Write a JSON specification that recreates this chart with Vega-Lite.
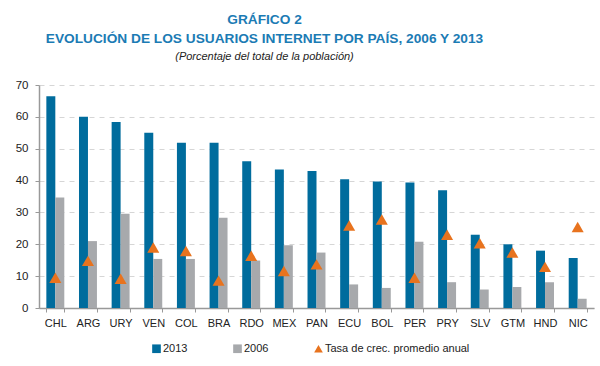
{
  "$schema": "https://vega.github.io/schema/vega-lite/v6.json",
  "width": 555,
  "height": 223,
  "autosize": {"type": "pad"},
  "padding": {"left": 15, "top": 13, "right": 7, "bottom": 5},
  "background": "white",
  "config": {"font": "Liberation Sans", "view": {"stroke": null}},
  "title": {
    "text": ["GRÁFICO 2", "EVOLUCIÓN DE LOS USUARIOS INTERNET POR PAÍS, 2006 Y 2013"],
    "subtitle": "(Porcentaje del total de la población)",
    "fontSize": 13.7,
    "fontWeight": "bold",
    "color": "#1B7BB4",
    "lineHeight": 19,
    "subtitleFontSize": 11,
    "subtitleFontStyle": "italic",
    "subtitleColor": "#222222",
    "subtitlePadding": 5,
    "anchor": "middle",
    "frame": "group",
    "dx": -52,
    "offset": 17
  },
  "data": {
    "values": [
      {"pais": "CHL", "serie": "2013", "valor": 66.5},
      {"pais": "ARG", "serie": "2013", "valor": 60.0},
      {"pais": "URY", "serie": "2013", "valor": 58.4},
      {"pais": "VEN", "serie": "2013", "valor": 55.0},
      {"pais": "COL", "serie": "2013", "valor": 51.9},
      {"pais": "BRA", "serie": "2013", "valor": 51.9},
      {"pais": "RDO", "serie": "2013", "valor": 46.1},
      {"pais": "MEX", "serie": "2013", "valor": 43.5},
      {"pais": "PAN", "serie": "2013", "valor": 43.0},
      {"pais": "ECU", "serie": "2013", "valor": 40.4},
      {"pais": "BOL", "serie": "2013", "valor": 39.7},
      {"pais": "PER", "serie": "2013", "valor": 39.4},
      {"pais": "PRY", "serie": "2013", "valor": 37.0},
      {"pais": "SLV", "serie": "2013", "valor": 23.0},
      {"pais": "GTM", "serie": "2013", "valor": 20.0},
      {"pais": "HND", "serie": "2013", "valor": 18.0},
      {"pais": "NIC", "serie": "2013", "valor": 15.7},
      {"pais": "CHL", "serie": "2006", "valor": 34.7},
      {"pais": "ARG", "serie": "2006", "valor": 21.0},
      {"pais": "URY", "serie": "2006", "valor": 29.6},
      {"pais": "VEN", "serie": "2006", "valor": 15.4},
      {"pais": "COL", "serie": "2006", "valor": 15.4},
      {"pais": "BRA", "serie": "2006", "valor": 28.3},
      {"pais": "RDO", "serie": "2006", "valor": 14.9},
      {"pais": "MEX", "serie": "2006", "valor": 19.7},
      {"pais": "PAN", "serie": "2006", "valor": 17.4},
      {"pais": "ECU", "serie": "2006", "valor": 7.4},
      {"pais": "BOL", "serie": "2006", "valor": 6.3},
      {"pais": "PER", "serie": "2006", "valor": 20.8},
      {"pais": "PRY", "serie": "2006", "valor": 8.1},
      {"pais": "SLV", "serie": "2006", "valor": 5.8},
      {"pais": "GTM", "serie": "2006", "valor": 6.6},
      {"pais": "HND", "serie": "2006", "valor": 8.1},
      {"pais": "NIC", "serie": "2006", "valor": 2.9},
      {"pais": "CHL", "serie": "Tasa de crec. promedio anual", "valor": 9.5},
      {"pais": "ARG", "serie": "Tasa de crec. promedio anual", "valor": 14.8},
      {"pais": "URY", "serie": "Tasa de crec. promedio anual", "valor": 9.2},
      {"pais": "VEN", "serie": "Tasa de crec. promedio anual", "valor": 19.0},
      {"pais": "COL", "serie": "Tasa de crec. promedio anual", "valor": 17.9},
      {"pais": "BRA", "serie": "Tasa de crec. promedio anual", "valor": 8.6},
      {"pais": "RDO", "serie": "Tasa de crec. promedio anual", "valor": 16.4},
      {"pais": "MEX", "serie": "Tasa de crec. promedio anual", "valor": 11.6},
      {"pais": "PAN", "serie": "Tasa de crec. promedio anual", "valor": 13.7},
      {"pais": "ECU", "serie": "Tasa de crec. promedio anual", "valor": 25.9},
      {"pais": "BOL", "serie": "Tasa de crec. promedio anual", "valor": 27.8},
      {"pais": "PER", "serie": "Tasa de crec. promedio anual", "valor": 9.5},
      {"pais": "PRY", "serie": "Tasa de crec. promedio anual", "valor": 23.0},
      {"pais": "SLV", "serie": "Tasa de crec. promedio anual", "valor": 20.3},
      {"pais": "GTM", "serie": "Tasa de crec. promedio anual", "valor": 17.4},
      {"pais": "HND", "serie": "Tasa de crec. promedio anual", "valor": 12.9},
      {"pais": "NIC", "serie": "Tasa de crec. promedio anual", "valor": 25.4}
    ]
  },
  "encoding": {
    "x": {
      "field": "pais",
      "type": "nominal",
      "sort": null,
      "scale": {"paddingInner": 0.45, "paddingOuter": 0.225},
      "axis": {
        "title": null,
        "labelAngle": 0,
        "labelFontSize": 11,
        "labelColor": "#222222",
        "domainColor": "#999999",
        "domainWidth": 1.5,
        "tickColor": "#999999",
        "tickSize": 4,
        "tickBand": "extent",
        "labelPadding": 5,
        "grid": false
      }
    },
    "y": {
      "field": "valor",
      "type": "quantitative",
      "scale": {"domain": [0, 70]},
      "axis": {
        "title": null,
        "values": [0, 10, 20, 30, 40, 50, 60, 70],
        "grid": true,
        "gridDash": [5, 5],
        "gridColor": "#D6D6D6",
        "domainColor": "#999999",
        "domainWidth": 1.5,
        "tickColor": "#999999",
        "tickSize": 4,
        "labelPadding": 7,
        "labelFontSize": 11.5,
        "labelColor": "#222222"
      }
    },
    "color": {
      "field": "serie",
      "type": "nominal",
      "scale": {
        "domain": ["2013", "2006", "Tasa de crec. promedio anual"],
        "range": ["#006C9D", "#A7A9AC", "#E8731E"]
      },
      "legend": {
        "title": null,
        "orient": "none",
        "legendX": 112,
        "legendY": 258,
        "direction": "horizontal",
        "columnPadding": 44,
        "labelFontSize": 11,
        "labelColor": "#222222",
        "symbolSize": 75,
        "labelOffset": 1,
        "symbolStrokeWidth": 0
      }
    }
  },
  "layer": [
    {
      "transform": [{"filter": "datum.serie !== 'Tasa de crec. promedio anual'"}],
      "mark": {"type": "bar"},
      "encoding": {
        "xOffset": {
          "field": "serie",
          "type": "nominal",
          "sort": ["2013", "2006"],
          "scale": {"paddingInner": 0, "paddingOuter": 0}
        }
      }
    },
    {
      "transform": [{"filter": "datum.serie === 'Tasa de crec. promedio anual'"}],
      "mark": {"type": "point", "filled": true, "size": 145, "opacity": 1},
      "encoding": {
        "shape": {
          "field": "serie",
          "type": "nominal",
          "scale": {
            "domain": ["2013", "2006", "Tasa de crec. promedio anual"],
            "range": ["square", "square", "triangle-up"]
          },
          "legend": {
            "title": null,
            "orient": "none",
            "legendX": 112,
            "legendY": 258,
            "direction": "horizontal",
            "columnPadding": 44,
            "labelFontSize": 11,
            "labelColor": "#222222",
            "symbolSize": 75,
            "labelOffset": 1,
            "symbolStrokeWidth": 0
          }
        }
      }
    }
  ]
}
